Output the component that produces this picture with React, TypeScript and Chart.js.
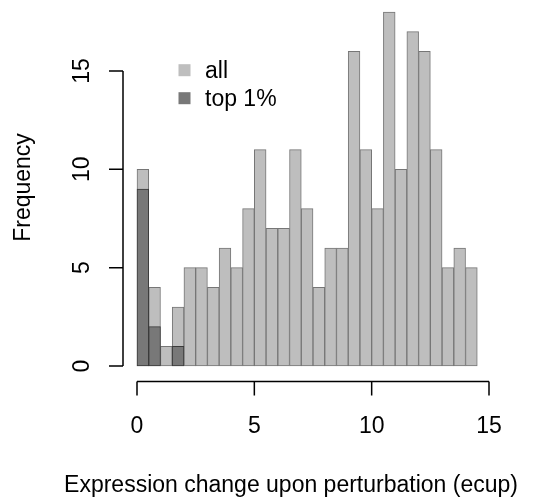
import React, { useEffect, useRef } from "react";
import { Chart, registerables } from "chart.js";

Chart.register(...registerables);

// ---- data ----
const binMids = [
  0.25, 0.75, 1.25, 1.75, 2.25, 2.75, 3.25, 3.75, 4.25, 4.75,
  5.25, 5.75, 6.25, 6.75, 7.25, 7.75, 8.25, 8.75, 9.25, 9.75,
  10.25, 10.75, 11.25, 11.75, 12.25, 12.75, 13.25, 13.75, 14.25,
];
const allCounts = [
  10, 4, 1, 3, 5, 5, 4, 6, 5, 8,
  11, 7, 7, 11, 8, 4, 6, 6, 16, 11,
  8, 18, 10, 17, 16, 11, 5, 6, 5,
];
const topMids = [0.25, 0.75, 1.25, 1.75];
const topCounts = [9, 2, 0, 1];
const xTicks = [0, 5, 10, 15];
const yTicks = [0, 5, 10, 15];
const seriesLabels = ["all", "top 1%"];
const xTitle = "Expression change upon perturbation (ecup)";
const yTitle = "Frequency";

const FONT = '23px "Liberation Sans", Arial, Helvetica, sans-serif';
const LIGHT = "#bebebe";
const LIGHT_BORDER = "#767676";
const DARK = "#787878";
const DARK_BORDER = "#3a3a3a";

const rAxesPlugin = {
  id: "rAxes",
  afterDraw(chart: any) {
    const ctx = chart.ctx as CanvasRenderingContext2D;
    const xs = chart.scales.x;
    const ys = chart.scales.y;
    const area = chart.chartArea;
    ctx.save();
    ctx.strokeStyle = "#000";
    ctx.fillStyle = "#000";
    ctx.lineWidth = 1.5;
    ctx.font = FONT;

    // x axis
    const axY = area.bottom + 0.5;
    const tickLen = 14;
    ctx.beginPath();
    ctx.moveTo(xs.getPixelForValue(xTicks[0]), axY);
    ctx.lineTo(xs.getPixelForValue(xTicks[xTicks.length - 1]), axY);
    for (const v of xTicks) {
      const px = xs.getPixelForValue(v);
      ctx.moveTo(px, axY);
      ctx.lineTo(px, axY + tickLen);
    }
    ctx.stroke();
    ctx.textAlign = "center";
    ctx.textBaseline = "alphabetic";
    for (const v of xTicks) {
      ctx.fillText(String(v), xs.getPixelForValue(v), 433);
    }

    // y axis
    const axX = area.left;
    ctx.beginPath();
    ctx.moveTo(axX, ys.getPixelForValue(yTicks[0]));
    ctx.lineTo(axX, ys.getPixelForValue(yTicks[yTicks.length - 1]));
    for (const v of yTicks) {
      const py = ys.getPixelForValue(v);
      ctx.moveTo(axX, py);
      ctx.lineTo(axX - tickLen, py);
    }
    ctx.stroke();
    for (const v of yTicks) {
      ctx.save();
      ctx.translate(88.5, ys.getPixelForValue(v));
      ctx.rotate(-Math.PI / 2);
      ctx.textAlign = "center";
      ctx.fillText(String(v), 0, 0);
      ctx.restore();
    }

    // titles
    ctx.textAlign = "center";
    ctx.fillText(xTitle, 291, 492);
    ctx.save();
    ctx.translate(30, 187.5);
    ctx.rotate(-Math.PI / 2);
    ctx.fillText(yTitle, 0, 0);
    ctx.restore();

    // legend
    const items = [
      { label: chart.data.datasets[0].label, color: LIGHT, cy: 70.2 },
      { label: chart.data.datasets[1].label, color: DARK, cy: 98.2 },
    ];
    ctx.textAlign = "left";
    for (const it of items) {
      ctx.fillStyle = it.color;
      ctx.fillRect(178.5, it.cy - 6, 12, 12);
      ctx.fillStyle = "#000";
      ctx.fillText(it.label, 205, it.cy + 8);
    }
    ctx.restore();
  },
};

export default function App() {
  const canvasRef = useRef<HTMLCanvasElement | null>(null);

  useEffect(() => {
    if (!canvasRef.current) return;
    const pxPerX = (489 - 137) / 15;
    const pxPerY = (366 - 71) / 15;
    const left = 123, right = 491, top = 4, bottom = 381;
    const xMin = (left - 137) / pxPerX;
    const xMax = (right - 137) / pxPerX;
    const yMin = -(bottom - 366) / pxPerY;
    const yMax = (366 - top) / pxPerY;

    const chart = new Chart(canvasRef.current, {
      type: "bar",
      data: {
        datasets: [
          {
            label: seriesLabels[0],
            data: binMids.map((x, i) => ({ x, y: allCounts[i] })),
            backgroundColor: LIGHT,
            borderColor: LIGHT_BORDER,
            borderWidth: 1,
            borderSkipped: false,
            grouped: false,
            barPercentage: 1,
            categoryPercentage: 1,
            order: 2,
          },
          {
            label: seriesLabels[1],
            data: topMids.map((x, i) => ({ x, y: topCounts[i] })),
            backgroundColor: DARK,
            borderColor: DARK_BORDER,
            borderWidth: 1,
            borderSkipped: false,
            grouped: false,
            barPercentage: 1,
            categoryPercentage: 1,
            order: 1,
          },
        ],
      } as any,
      options: {
        responsive: false,
        animation: false,
        layout: { padding: { left, right: 553 - right, top, bottom: 504 - bottom } },
        plugins: { legend: { display: false }, tooltip: { enabled: false } },
        scales: {
          x: {
            type: "linear",
            display: false,
            offset: false,
            grid: { offset: false },
            min: xMin,
            max: xMax,
            afterBuildTicks: (s: any) => {
              s.ticks = xTicks.map((v) => ({ value: v }));
            },
          },
          y: {
            type: "linear",
            display: false,
            min: yMin,
            max: yMax,
            afterBuildTicks: (s: any) => {
              s.ticks = yTicks.map((v) => ({ value: v }));
            },
          },
        },
      } as any,
      plugins: [rAxesPlugin],
    });
    return () => chart.destroy();
  }, []);

  return (
    <div style={{ position: "fixed", left: 0, top: 0, width: 553, height: 504, background: "#fff" }}>
      <canvas ref={canvasRef} width={553} height={504} style={{ display: "block" }} />
    </div>
  );
}
